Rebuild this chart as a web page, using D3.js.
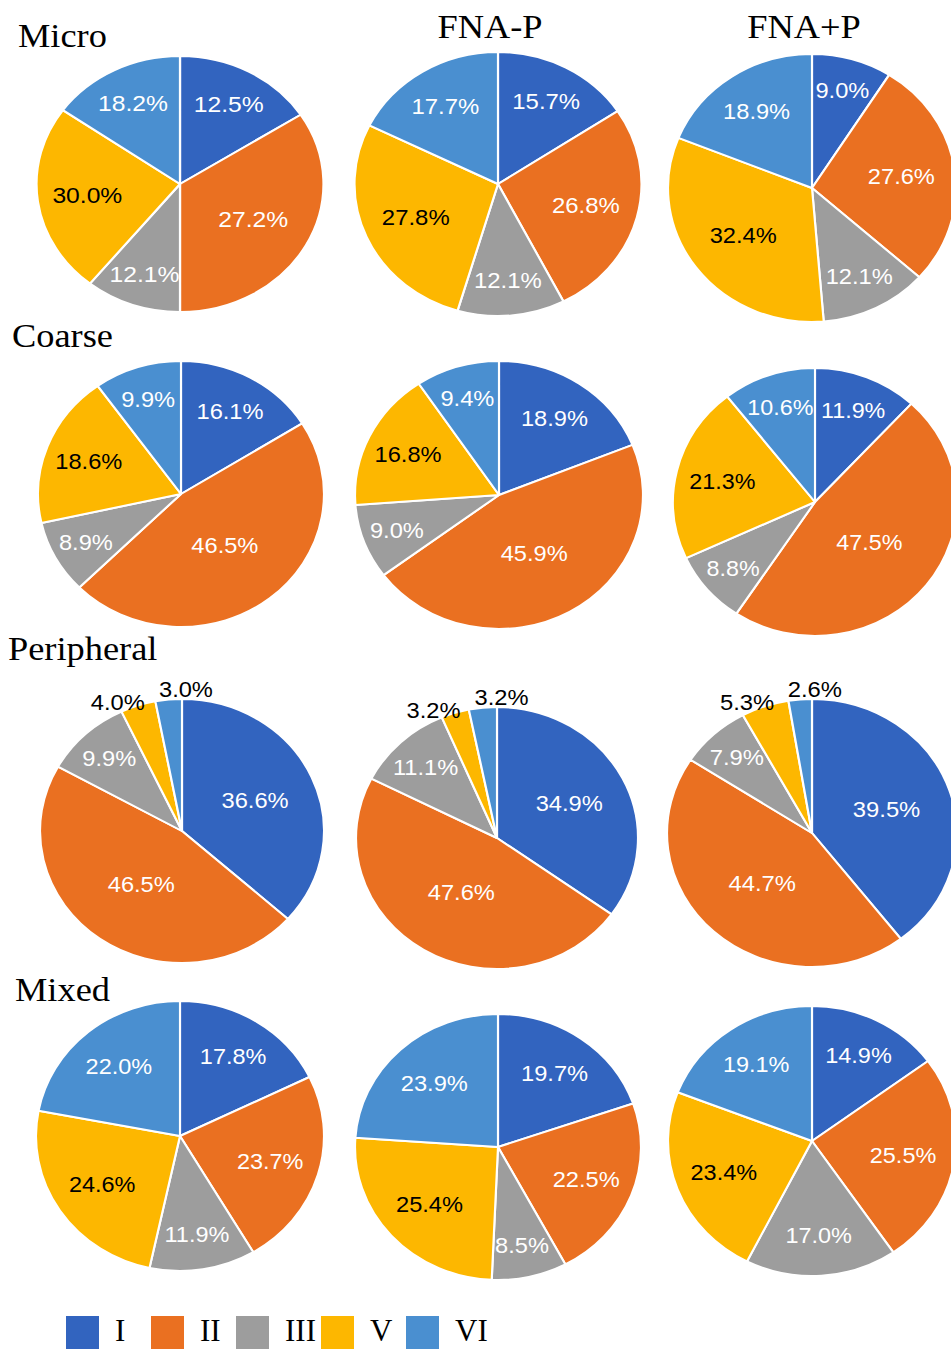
<!DOCTYPE html>
<html>
<head>
<meta charset="utf-8">
<script src="https://cdn.jsdelivr.net/npm/d3@7"></script>
<style>
  body { margin: 0; background: #fff; }
  svg { display: block; }
</style>
</head>
<body>
<div id="vis"></div>
<script>
// subtypes, drawn clockwise from 12 o'clock
const types = ["I", "II", "III", "V", "VI"];
const colors = ["#3264bf", "#ea7021", "#9d9d9d", "#fdb700", "#4a8fd0"];
const rowNames = ["Micro", "Coarse", "Peripheral", "Mixed"];
const colNames = ["", "FNA-P", "FNA+P"];

// printed percentages, one list per column, order as types
const micro = [
  [12.5, 27.2, 12.1, 30.0, 18.2],
  [15.7, 26.8, 12.1, 27.8, 17.7],
  [9.0, 27.6, 12.1, 32.4, 18.9]
];
const coarse = [
  [16.1, 46.5, 8.9, 18.6, 9.9],
  [18.9, 45.9, 9.0, 16.8, 9.4],
  [11.9, 47.5, 8.8, 21.3, 10.6]
];
const peripheral = [
  [36.6, 46.5, 9.9, 4.0, 3.0],
  [34.9, 47.6, 11.1, 3.2, 3.2],
  [39.5, 44.7, 7.9, 5.3, 2.6]
];
const mixed = [
  [17.8, 23.7, 11.9, 24.6, 22.0],
  [19.7, 22.5, 8.5, 25.4, 23.9],
  [14.9, 25.5, 17.0, 23.4, 19.1]
];
const allValues = [micro, coarse, peripheral, mixed];

// in the reference the first Micro pie is drawn with slices that
// do not match its printed labels; these are the drawn shares
const microFirstSlices = [15.9, 34.1, 10.8, 24.0, 15.2];

// layout: centre x, centre y, radius x, radius y (the figure is a bit stretched)
const boxes = [
  [[180, 184, 143.5, 128], [498, 184, 143.5, 132], [812, 188, 144, 134]],
  [[181, 494, 143, 133], [499, 495, 144, 134], [815, 502, 142, 134]],
  [[182, 831, 142, 132], [497, 838, 141, 131], [812, 833, 145, 134]],
  [[180, 1136, 144, 135], [498, 1147, 143, 133], [812, 1141, 144, 135]]
];

const W = 951, H = 1349;
const svg = d3.select("#vis").append("svg")
  .attr("width", W)
  .attr("height", H)
  .attr("viewBox", [0, 0, W, H].join(" "));

svg.append("rect").attr("width", W).attr("height", H).attr("fill", "#fff");

const pie = d3.pie().sort(null).value(d => d.v);
const labelFont = "'Liberation Sans', Arial, sans-serif";
const serif = "'Liberation Serif', 'Times New Roman', serif";

boxes.forEach((row, r) => row.forEach((b, c) => {
  const [cx, cy, rx, ry] = b;
  const printed = allValues[r][c];
  const sizes = (r === 0 && c === 0) ? microFirstSlices : printed;
  const data = types.map((t, i) => ({ t, i, v: sizes[i], label: printed[i].toFixed(1) + "%" }));
  const arcs = pie(data);
  const arc = d3.arc().innerRadius(0).outerRadius(ry);

  const g = svg.append("g")
    .attr("transform", `translate(${cx},${cy}) scale(${rx / ry},1)`);

  g.selectAll("path")
    .data(arcs)
    .join("path")
    .attr("d", arc)
    .attr("fill", d => colors[d.data.i])
    .attr("stroke", "#fff")
    .attr("stroke-width", 2)
    .attr("stroke-linejoin", "round");

  // label placement: inside for normal slices, outside for tiny ones
  const labs = arcs.map(d => {
    const share = (d.endAngle - d.startAngle) / (2 * Math.PI);
    const a = (d.startAngle + d.endAngle) / 2;
    const outside = share < 0.06;
    const rr = outside ? ry + 10 : ry * (0.82 - 0.7 * share);
    return { d, a, rr, outside };
  });

  const texts = g.selectAll("text")
    .data(labs)
    .join("text")
    .attr("text-anchor", "middle")
    .attr("dy", "0.35em")
    .attr("font-family", labelFont)
    .attr("font-size", 22)
    .attr("fill", l => (l.outside || l.d.data.i === 3) ? "#000" : "#fff")
    .text(l => l.d.data.label);

  texts.each(function (l) { l.w = this.getComputedTextLength(); });

  // spread neighbouring outside labels so they don't collide
  const outs = labs.filter(l => l.outside);
  for (let it = 0; it < 200; it++) {
    let moved = false;
    for (let k = 0; k < outs.length - 1; k++) {
      const p = outs[k], q = outs[k + 1];
      const px = p.rr * Math.sin(p.a), qx = q.rr * Math.sin(q.a);
      const py = -p.rr * Math.cos(p.a), qy = -q.rr * Math.cos(q.a);
      if (Math.abs(px - qx) < (p.w + q.w) / 2 + 12 && Math.abs(py - qy) < 20) {
        p.a -= 0.005; q.a += 0.005; moved = true;
      }
    }
    if (!moved) break;
  }

  texts
    .attr("x", l => l.rr * Math.sin(l.a))
    .attr("y", l => -l.rr * Math.cos(l.a));
}));

// row names on the left, column names on top
const rowTitleX = [18, 12, 8, 15];
const rowTitleY = [47, 347, 660, 1001];
rowNames.forEach((name, r) => {
  svg.append("text")
    .attr("transform", `translate(${rowTitleX[r]},${rowTitleY[r]}) scale(1.07,1)`)
    .attr("font-family", serif)
    .attr("font-size", 34)
    .attr("fill", "#000")
    .text(name);
});

colNames.forEach((name, c) => {
  if (!name) return;
  svg.append("text")
    .attr("transform", `translate(${boxes[0][c][0] - 8},38) scale(1.07,1)`)
    .attr("text-anchor", "middle")
    .attr("font-family", serif)
    .attr("font-size", 34)
    .attr("fill", "#000")
    .text(name);
});

// legend along the bottom
const lx = d3.scalePoint().domain(types).range([66, 406]);
const legend = svg.append("g");
types.forEach((t, i) => {
  legend.append("rect")
    .attr("x", lx(t))
    .attr("y", 1316)
    .attr("width", 33)
    .attr("height", 33)
    .attr("fill", colors[i]);
  legend.append("text")
    .attr("x", lx(t) + 49)
    .attr("y", 1341)
    .attr("font-family", serif)
    .attr("font-size", 31)
    .attr("fill", "#000")
    .text(t);
});
</script>
</body>
</html>
